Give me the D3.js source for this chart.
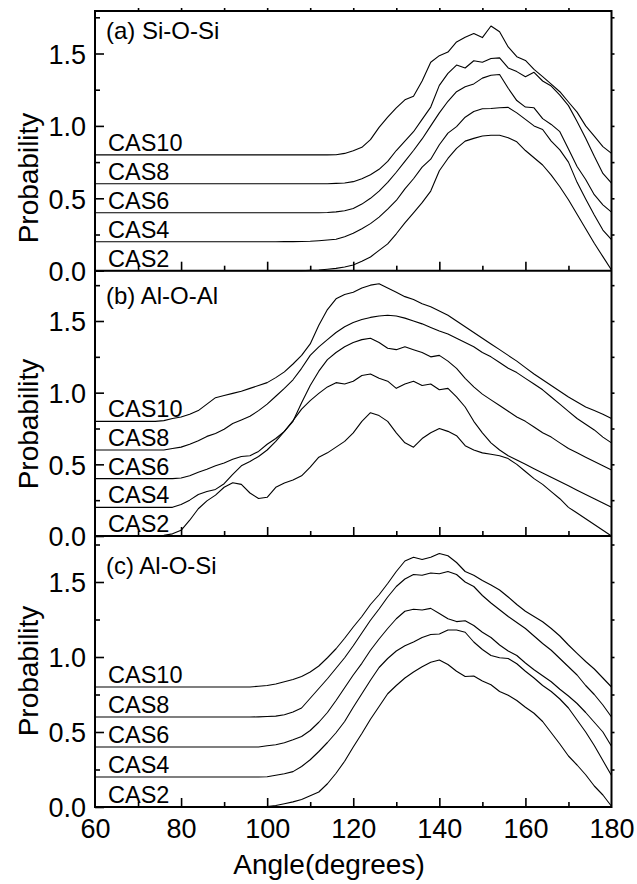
<!DOCTYPE html>
<html><head><meta charset="utf-8">
<script src="https://cdn.jsdelivr.net/npm/d3@7"></script>
<style>
html,body{margin:0;padding:0;background:#fff;}
svg{display:block;}
text{font-family:"Liberation Sans",Arial,Helvetica,sans-serif;fill:#000;}
</style>
</head><body>
<svg id="chart" width="637" height="884"></svg>
<script>
// ---------------- data ----------------
const angles = [60,62,64,66,68,70,72,74,76,78,80,82,84,86,88,90,92,94,96,98,100,102,104,106,108,110,112,114,116,118,120,122,124,126,128,130,132,134,136,138,140,142,144,146,148,150,152,154,156,158,160,162,164,166,168,170,172,174,176,178,180];
const seriesNames = ["CAS2","CAS4","CAS6","CAS8","CAS10"];
const seriesBaselines = [0, 0.2, 0.4, 0.6, 0.8];
const panelTitles = ["(a) Si-O-Si","(b) Al-O-Al","(c) Al-O-Si"];
const xTickValues = [60,80,100,120,140,160,180];
const xMinorTickValues = [70,90,110,130,150,170];
const yTickValues = [0,0.5,1.0,1.5];
const yMinorTickValues = [0.25,0.75,1.25,1.75];
const xTitle = "Angle(degrees)";
const yTitle = "Probability";

// (a) Si-O-Si (curves as plotted, stacked by 0.2)
const siosi_CAS2 = [0,0,0,0,0,0,0,0,0,0,0,0,0,0,0,0,0,0,0,0,0,0,0,0,0,
  0.002,0.005,0.01,0.016,0.026,0.039,0.065,0.095,0.14,0.185,0.255,0.33,0.40,0.47,0.55,0.69,0.775,0.845,0.895,0.914,0.93,0.935,0.935,0.918,0.89,0.83,0.78,0.73,0.66,0.58,0.49,0.39,0.29,0.19,0.097,0.005];
const siosi_CAS4 = [0.2,0.2,0.2,0.2,0.2,0.2,0.2,0.2,0.2,0.2,0.2,0.2,0.2,0.2,0.2,0.2,0.2,0.2,0.2,0.2,0.2,0.2,0.201,0.201,0.202,
  0.203,0.207,0.212,0.217,0.235,0.258,0.29,0.325,0.37,0.425,0.485,0.565,0.635,0.715,0.77,0.87,0.95,0.995,1.06,1.10,1.118,1.12,1.125,1.128,1.09,1.045,1.0,0.975,0.895,0.834,0.75,0.61,0.495,0.385,0.281,0.215];
const siosi_CAS6 = [0.4,0.4,0.4,0.4,0.4,0.4,0.4,0.4,0.4,0.4,0.4,0.4,0.4,0.4,0.4,0.4,0.4,0.4,0.4,0.4,0.4,0.4,0.4,0.4,0.4,0.4,0.4,
  0.402,0.406,0.414,0.43,0.46,0.50,0.55,0.61,0.68,0.755,0.83,0.91,1.0,1.09,1.17,1.236,1.27,1.29,1.33,1.35,1.355,1.26,1.175,1.13,1.125,1.05,1.01,0.96,0.84,0.72,0.63,0.525,0.455,0.405];
const siosi_CAS8 = [0.6,0.6,0.6,0.6,0.6,0.6,0.6,0.6,0.6,0.6,0.6,0.6,0.6,0.6,0.6,0.6,0.6,0.6,0.6,0.6,0.6,0.6,0.6,0.6,0.6,0.6,0.6,
  0.601,0.603,0.606,0.615,0.635,0.663,0.70,0.755,0.83,0.895,0.96,1.045,1.13,1.28,1.363,1.42,1.40,1.45,1.44,1.465,1.47,1.40,1.375,1.34,1.37,1.31,1.275,1.213,1.14,1.03,0.915,0.79,0.672,0.605];
const siosi_CAS10 = [0.8,0.8,0.8,0.8,0.8,0.8,0.8,0.8,0.8,0.8,0.8,0.8,0.8,0.8,0.8,0.8,0.8,0.8,0.8,0.8,0.8,0.8,0.8,0.8,0.8,0.8,0.8,0.8,
  0.801,0.81,0.828,0.852,0.905,0.99,1.06,1.125,1.18,1.205,1.31,1.44,1.485,1.51,1.58,1.612,1.638,1.61,1.69,1.65,1.545,1.478,1.452,1.39,1.34,1.288,1.236,1.165,1.095,1.0,0.93,0.857,0.81];

// (b) Al-O-Al
const alo_al_CAS2 = [0,0,0,0,0,0,0,0,
  0.005,0.015,0.04,0.11,0.19,0.245,0.285,0.34,0.372,0.36,0.30,0.262,0.27,0.34,0.37,0.39,0.42,0.48,0.55,0.58,0.62,0.66,0.72,0.80,0.86,0.84,0.80,0.72,0.65,0.62,0.68,0.72,0.75,0.73,0.70,0.63,0.60,0.58,0.57,0.56,0.54,0.50,0.45,0.40,0.36,0.31,0.26,0.20,0.16,0.12,0.08,0.04,0.0];
const alo_al_CAS4 = [0.2,0.2,0.2,0.2,0.2,0.2,0.2,0.2,0.2,0.2,
  0.22,0.25,0.29,0.31,0.325,0.365,0.43,0.49,0.52,0.555,0.60,0.66,0.73,0.805,0.885,0.945,0.995,1.04,1.07,1.06,1.08,1.12,1.13,1.10,1.08,1.03,1.06,1.08,1.05,1.06,1.02,1.03,0.97,0.90,0.80,0.72,0.65,0.60,0.56,0.53,0.50,0.47,0.44,0.41,0.38,0.35,0.32,0.29,0.26,0.23,0.20];
const alo_al_CAS6 = [0.4,0.4,0.4,0.4,0.4,0.4,0.4,0.4,0.4,0.4,
  0.405,0.42,0.445,0.465,0.49,0.51,0.535,0.555,0.56,0.59,0.64,0.68,0.73,0.80,0.93,1.05,1.15,1.23,1.28,1.32,1.35,1.37,1.38,1.35,1.31,1.30,1.32,1.30,1.28,1.25,1.26,1.22,1.17,1.10,1.04,0.99,0.95,0.91,0.87,0.83,0.80,0.76,0.72,0.69,0.65,0.61,0.58,0.55,0.52,0.49,0.46];
const alo_al_CAS8 = [0.6,0.6,0.6,0.6,0.6,0.6,0.6,0.6,0.6,
  0.61,0.62,0.64,0.665,0.695,0.715,0.745,0.785,0.81,0.835,0.875,0.92,0.975,1.03,1.09,1.17,1.26,1.32,1.37,1.42,1.46,1.49,1.51,1.525,1.535,1.54,1.535,1.52,1.50,1.48,1.455,1.43,1.41,1.38,1.35,1.32,1.28,1.25,1.21,1.17,1.14,1.10,1.06,1.02,0.97,0.92,0.87,0.82,0.78,0.74,0.69,0.65];
const alo_al_CAS10 = [0.8,0.8,0.8,0.8,0.8,0.8,0.8,0.8,
  0.805,0.82,0.83,0.85,0.875,0.92,0.965,0.98,0.995,1.01,1.03,1.05,1.07,1.105,1.145,1.20,1.26,1.34,1.47,1.58,1.655,1.685,1.70,1.73,1.75,1.76,1.73,1.70,1.67,1.65,1.62,1.60,1.57,1.54,1.50,1.46,1.42,1.38,1.34,1.30,1.26,1.22,1.175,1.13,1.09,1.05,1.01,0.97,0.935,0.90,0.875,0.85,0.82];

// (c) Al-O-Si
const alosi_CAS2 = [0,0,0,0,0,0,0,0,0,0,0,0,0,0,0,0,0,0,0,0,
  0.003,0.01,0.022,0.034,0.05,0.075,0.10,0.155,0.225,0.305,0.40,0.49,0.585,0.67,0.755,0.81,0.86,0.90,0.935,0.965,0.98,0.95,0.905,0.87,0.873,0.84,0.815,0.77,0.745,0.71,0.665,0.625,0.57,0.495,0.42,0.34,0.28,0.215,0.14,0.08,0.005];
const alosi_CAS4 = [0.2,0.2,0.2,0.2,0.2,0.2,0.2,0.2,0.2,0.2,0.2,0.2,0.2,0.2,0.2,0.2,0.2,0.2,0.2,0.2,
  0.202,0.212,0.222,0.236,0.27,0.315,0.37,0.43,0.495,0.57,0.665,0.755,0.845,0.93,0.99,1.04,1.075,1.10,1.13,1.15,1.153,1.18,1.18,1.165,1.10,1.05,1.01,0.995,0.99,0.955,0.905,0.86,0.81,0.77,0.72,0.66,0.58,0.50,0.41,0.31,0.21];
const alosi_CAS6 = [0.4,0.4,0.4,0.4,0.4,0.4,0.4,0.4,0.4,0.4,0.4,0.4,0.4,0.4,0.4,0.4,0.4,0.4,0.4,0.4,
  0.408,0.415,0.428,0.448,0.47,0.51,0.565,0.63,0.71,0.795,0.88,0.958,1.045,1.12,1.19,1.255,1.305,1.318,1.313,1.324,1.29,1.255,1.236,1.242,1.21,1.165,1.13,1.08,1.04,1.01,0.96,0.915,0.875,0.835,0.785,0.74,0.69,0.63,0.565,0.50,0.405];
const alosi_CAS8 = [0.6,0.6,0.6,0.6,0.6,0.6,0.6,0.6,0.6,0.6,0.6,0.6,0.6,0.6,0.6,0.6,0.6,0.6,0.6,
  0.601,0.603,0.606,0.615,0.633,0.66,0.725,0.79,0.855,0.925,0.995,1.075,1.16,1.245,1.32,1.40,1.47,1.52,1.55,1.545,1.56,1.555,1.57,1.55,1.50,1.47,1.41,1.36,1.315,1.27,1.23,1.19,1.14,1.09,1.045,0.99,0.935,0.88,0.81,0.75,0.68,0.60];
const alosi_CAS10 = [0.8,0.8,0.8,0.8,0.8,0.8,0.8,0.8,0.8,0.8,0.8,0.8,0.8,0.8,0.8,0.8,0.8,0.8,0.8,
  0.805,0.81,0.82,0.835,0.85,0.87,0.90,0.94,0.995,1.055,1.125,1.20,1.27,1.35,1.415,1.49,1.57,1.64,1.665,1.65,1.665,1.69,1.675,1.63,1.57,1.545,1.51,1.48,1.447,1.40,1.35,1.305,1.27,1.235,1.19,1.14,1.08,1.024,0.97,0.92,0.86,0.80];

// ---------------- layout ----------------
const panelSeries = [
  [siosi_CAS2, siosi_CAS4, siosi_CAS6, siosi_CAS8, siosi_CAS10],
  [alo_al_CAS2, alo_al_CAS4, alo_al_CAS6, alo_al_CAS8, alo_al_CAS10],
  [alosi_CAS2, alosi_CAS4, alosi_CAS6, alosi_CAS8, alosi_CAS10]
];
// frame geometry: top edge, pixel of 0.0, pixel of 1.5
const panelGeom = [
  {top: 11,    zero: 270.7, y15: 53.5,  titleY: 39,  ylabY: 178},
  {top: 270.7, zero: 536,   y15: 321,   titleY: 304, ylabY: 424},
  {top: 536,   zero: 807,   y15: 582,   titleY: 574, ylabY: 671}
];
const L = 95, R = 611.5;

const svg = d3.select("#chart");
svg.append("rect").attr("width",637).attr("height",884).attr("fill","#fff");

const x = d3.scaleLinear().domain([60,180]).range([L,R]);

panelGeom.forEach((g, pi) => {
  const y = d3.scaleLinear().domain([0,1.5]).range([g.zero, g.y15]);
  const topVal = y.invert(g.top);
  const gp = svg.append("g");

  // data lines
  const line = d3.line().x(d => x(d[0])).y(d => y(d[1]));
  panelSeries[pi].forEach(vals => {
    gp.append("path")
      .datum(angles.map((a,i) => [a, vals[i]]))
      .attr("d", line)
      .attr("fill","none")
      .attr("stroke","#000")
      .attr("stroke-width",1.1)
      .attr("stroke-linejoin","round");
  });

  const styleAxis = (sel, sw) => {
    sel.select(".domain").remove();
    sel.selectAll(".tick line").attr("stroke","#000").attr("stroke-width",sw);
  };

  // left axis: major (inward) with labels
  const leftMajor = gp.append("g").attr("transform",`translate(${L},0)`)
    .call(d3.axisLeft(y).tickValues(yTickValues).tickSizeInner(-9).tickSizeOuter(0)
      .tickPadding(9).tickFormat(d3.format(".1f")));
  styleAxis(leftMajor, 1.6);
  leftMajor.selectAll("text").attr("font-size",27).attr("dy","0.36em")
    .style("font-family",'"Liberation Sans",Arial,sans-serif');

  // left minor
  const minorVals = yMinorTickValues.filter(v => v < topVal - 0.03);
  const leftMinor = gp.append("g").attr("transform",`translate(${L},0)`)
    .call(d3.axisLeft(y).tickValues(minorVals).tickSizeInner(-5).tickSizeOuter(0).tickFormat(""));
  styleAxis(leftMinor, 1.6);

  // right axis: small outward ticks
  const rightVals = yTickValues.concat(minorVals).filter(v => v > 0);
  const right = gp.append("g").attr("transform",`translate(${R},0)`)
    .call(d3.axisRight(y).tickValues(rightVals).tickSizeInner(3).tickSizeOuter(0).tickFormat(""));
  styleAxis(right, 1.6);

  // bottom axis (inward ticks)
  const bottomMajor = gp.append("g").attr("transform",`translate(0,${g.zero})`)
    .call(d3.axisBottom(x).tickValues(xTickValues).tickSizeInner(-9).tickSizeOuter(0)
      .tickPadding(31).tickFormat(pi === 2 ? d3.format("d") : ""));
  styleAxis(bottomMajor, 1.6);
  bottomMajor.selectAll(".tick").filter(d => d === 60 || d === 180).select("line").remove();
  bottomMajor.selectAll("text").attr("font-size",27).attr("dy","0")
    .style("font-family",'"Liberation Sans",Arial,sans-serif');
  const bottomMinor = gp.append("g").attr("transform",`translate(0,${g.zero})`)
    .call(d3.axisBottom(x).tickValues(xMinorTickValues).tickSizeInner(-5).tickSizeOuter(0).tickFormat(""));
  styleAxis(bottomMinor, 1.6);

  // top axis only for first panel (small outward ticks)
  if (pi === 0) {
    const top = gp.append("g").attr("transform",`translate(0,${g.top})`)
      .call(d3.axisTop(x).tickValues(xTickValues.concat(xMinorTickValues).filter(v => v > 60 && v < 180))
        .tickSizeInner(3).tickSizeOuter(0).tickFormat(""));
    styleAxis(top, 1.6);
  }

  // series labels
  seriesNames.forEach((name, si) => {
    gp.append("text").attr("x",108).attr("y", y(seriesBaselines[si]) - 4)
      .attr("font-size",23.5).text(name);
  });

  // panel title
  gp.append("text").attr("x",106).attr("y",g.titleY).attr("font-size",24).text(panelTitles[pi]);

  // y title
  gp.append("text").attr("transform",`translate(38,${g.ylabY}) rotate(-90)`)
    .attr("text-anchor","middle").attr("font-size",28).text(yTitle);

  // panel separator line / frame
  gp.append("line").attr("x1",L).attr("x2",R).attr("y1",g.zero).attr("y2",g.zero)
    .attr("stroke","#000").attr("stroke-width",2);
});

// outer frame
svg.append("path")
  .attr("d", `M${L},${panelGeom[0].top}H${R}V${panelGeom[2].zero}H${L}Z`)
  .attr("fill","none").attr("stroke","#000").attr("stroke-width",2);

// x title
svg.append("text").attr("x",329).attr("y",874).attr("text-anchor","middle")
  .attr("font-size",28).text(xTitle);
</script>
</body></html>
